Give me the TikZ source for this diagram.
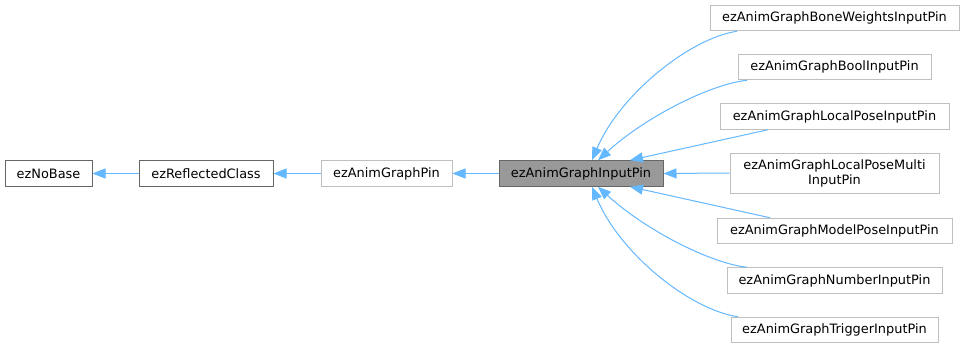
\documentclass[tikz,border=0pt]{standalone}
\usepackage{fontspec}
\setmainfont{DejaVu Sans}
\usetikzlibrary{arrows.meta}
\definecolor{edgeblue}{HTML}{63B8FF}
\definecolor{darkframe}{HTML}{666666}
\definecolor{lightframe}{HTML}{BFBFBF}
\definecolor{curfill}{HTML}{999999}
\tikzset{
  cls/.style={draw=lightframe, line width=1pt, fill=white, rectangle, inner sep=0pt,
    minimum height=25.5pt, align=center, font=\fontsize{12.9pt}{15pt}\selectfont, text=black},
  basecls/.style={cls, draw=darkframe},
  curcls/.style={cls, draw=darkframe, fill=curfill},
  edge/.style={draw=edgeblue, line width=1pt, -{Triangle[length=13pt,width=10pt]}}
}
\begin{document}
\begin{tikzpicture}[x=1pt, y=-1pt]
\useasboundingbox[fill=white] (0,0) rectangle (964,348);

% class chain on the left
\node[basecls, minimum width=87pt]  (nobase) at (48.5,173.5) {ezNoBase};
\node[basecls, minimum width=134pt] (refl)   at (206,173.5)  {ezReflectedClass};
\node[cls,     minimum width=131pt] (pin)    at (386.5,173.5) {ezAnimGraphPin};
\node[curcls,  minimum width=164pt] (ip)     at (581,173.5)  {ezAnimGraphInputPin};

% derived input pins
\node[cls, minimum width=249pt] (bw)    at (834.5,18)    {ezAnimGraphBoneWeightsInputPin};
\node[cls, minimum width=193pt] (bool)  at (834.5,67)    {ezAnimGraphBoolInputPin};
\node[cls, minimum width=229pt] (lp)    at (834.5,116.5) {ezAnimGraphLocalPoseInputPin};
\node[cls, minimum width=209pt, minimum height=40pt] (lpm) at (834.5,173)
  {ezAnimGraphLocalPoseMulti\\InputPin};
\node[cls, minimum width=235pt] (mp)    at (834.5,231)   {ezAnimGraphModelPoseInputPin};
\node[cls, minimum width=215pt] (num)   at (834.5,280.5) {ezAnimGraphNumberInputPin};
\node[cls, minimum width=207pt] (trig)  at (834.5,330)   {ezAnimGraphTriggerInputPin};

% inheritance edges
\draw[edge] (refl.west) -- (nobase.east);
\draw[edge] (pin.west) -- (refl.east);
\draw[edge] (ip.west) -- (pin.east);

\draw[edge] ([xshift=-97.5pt]bw.south) .. controls +(-47,7) and +(28,-66) .. ([xshift=11pt]ip.north);
\draw[edge] ([xshift=-87.5pt]bool.south) .. controls +(-37,4) and +(47,-43) .. ([xshift=17pt]ip.north);
\draw[edge] ([xshift=-66.5pt]lp.south) -- ([xshift=49pt]ip.north);
\draw[edge] (lpm.west) -- (ip.east);
\draw[edge] ([xshift=-64.5pt]mp.north) -- ([xshift=49pt]ip.south);
\draw[edge] ([xshift=-87.5pt]num.north) .. controls +(-37,-4) and +(47,43) .. ([xshift=17pt]ip.south);
\draw[edge] ([xshift=-96.5pt]trig.north) .. controls +(-48,-7) and +(28,67) .. ([xshift=11pt]ip.south);
\end{tikzpicture}
\end{document}
